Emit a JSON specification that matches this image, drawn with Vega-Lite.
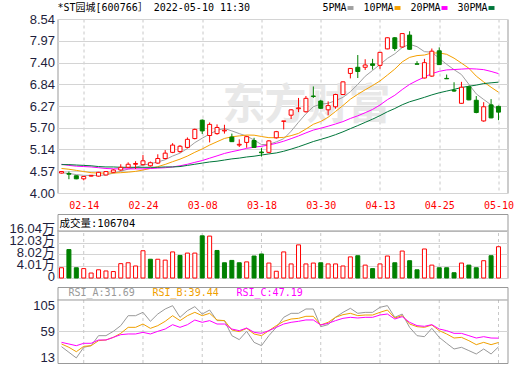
{
  "$schema": "https://vega.github.io/schema/vega-lite/v6.json",
  "background": "white",
  "padding": {"left": 7.5, "top": 2, "right": 8, "bottom": 0},
  "bounds": "flush",
  "spacing": 9,
  "data": {"values": [
    {"d":"02-09","o":4.52,"h":4.57,"l":4.51,"c":4.56,"v":3.5,"ma5":4.53,"ma10":4.64,"ma20":4.75,"ma30":4.74,"ra":32,"rb":36.8,"rc":39.7},
    {"d":"02-10","o":4.51,"h":4.56,"l":4.36,"c":4.49,"v":9.7,"ma5":4.51,"ma10":4.62,"ma20":4.72,"ma30":4.74,"ra":22,"rb":30.9,"rc":36.8},
    {"d":"02-11","o":4.45,"h":4.46,"l":4.36,"c":4.37,"v":3.5,"ma5":4.48,"ma10":4.59,"ma20":4.70,"ma30":4.73,"ra":12,"rb":23.1,"rc":33.8},
    {"d":"02-14","o":4.37,"h":4.44,"l":4.33,"c":4.43,"v":3.2,"ma5":4.46,"ma10":4.56,"ma20":4.69,"ma30":4.72,"ra":30.9,"rb":32.6,"rc":38},
    {"d":"02-15","o":4.44,"h":4.47,"l":4.43,"c":4.46,"v":1.7,"ma5":4.46,"ma10":4.53,"ma20":4.68,"ma30":4.71,"ra":33.8,"rb":33.8,"rc":38},
    {"d":"02-16","o":4.44,"h":4.55,"l":4.43,"c":4.54,"v":2.8,"ma5":4.458,"ma10":4.52,"ma20":4.66,"ma30":4.69,"ra":51.6,"rb":42.7,"rc":43.9},
    {"d":"02-17","o":4.47,"h":4.57,"l":4.46,"c":4.56,"v":2.4,"ma5":4.472,"ma10":4.52,"ma20":4.64,"ma30":4.68,"ra":51.6,"rb":43.9,"rc":43.9},
    {"d":"02-18","o":4.54,"h":4.62,"l":4.52,"c":4.60,"v":2.2,"ma5":4.518,"ma10":4.52,"ma20":4.63,"ma30":4.68,"ra":59.3,"rb":48.6,"rc":48.6},
    {"d":"02-21","o":4.60,"h":4.75,"l":4.58,"c":4.67,"v":4.9,"ma5":4.566,"ma10":4.53,"ma20":4.63,"ma30":4.67,"ra":69.4,"rb":55.7,"rc":53.4},
    {"d":"02-22","o":4.67,"h":4.80,"l":4.65,"c":4.75,"v":5.2,"ma5":4.624,"ma10":4.544,"ma20":4.63,"ma30":4.67,"ra":87.1,"rb":66.4,"rc":54.6},
    {"d":"02-23","o":4.75,"h":4.83,"l":4.63,"c":4.77,"v":4.1,"ma5":4.67,"ma10":4.564,"ma20":4.63,"ma30":4.67,"ra":87.1,"rb":66.4,"rc":54.6},
    {"d":"02-24","o":4.74,"h":4.99,"l":4.72,"c":4.84,"v":9.3,"ma5":4.726,"ma10":4.599,"ma20":4.63,"ma30":4.67,"ra":93.1,"rb":72.3,"rc":57.5},
    {"d":"02-25","o":4.71,"h":4.82,"l":4.69,"c":4.79,"v":6.4,"ma5":4.764,"ma10":4.641,"ma20":4.64,"ma30":4.67,"ra":77.1,"rb":64.6,"rc":54.6},
    {"d":"02-28","o":4.78,"h":5.01,"l":4.76,"c":4.90,"v":6.4,"ma5":4.81,"ma10":4.688,"ma20":4.65,"ma30":4.67,"ra":90.1,"rb":69.4,"rc":59.3},
    {"d":"03-01","o":4.90,"h":5.12,"l":4.88,"c":5.04,"v":6.1,"ma5":4.868,"ma10":4.746,"ma20":4.66,"ma30":4.68,"ra":99,"rb":77.1,"rc":63.4},
    {"d":"03-02","o":5.06,"h":5.30,"l":5.04,"c":5.25,"v":8.9,"ma5":4.964,"ma10":4.817,"ma20":4.68,"ma30":4.68,"ra":104.9,"rb":87.1,"rc":71.1},
    {"d":"03-03","o":5.08,"h":5.25,"l":5.05,"c":5.22,"v":7.7,"ma5":5.04,"ma10":4.883,"ma20":4.71,"ma30":4.69,"ra":84.2,"rb":78.3,"rc":66.4},
    {"d":"03-04","o":5.19,"h":5.45,"l":5.17,"c":5.40,"v":8.5,"ma5":5.162,"ma10":4.963,"ma20":4.75,"ma30":4.72,"ra":96,"rb":87.1,"rc":71.1},
    {"d":"03-07","o":5.42,"h":5.68,"l":5.40,"c":5.66,"v":8.5,"ma5":5.314,"ma10":5.062,"ma20":4.80,"ma30":4.75,"ra":103.2,"rb":93.1,"rc":79.4},
    {"d":"03-08","o":5.90,"h":5.92,"l":5.54,"c":5.62,"v":14.4,"ma5":5.43,"ma10":5.149,"ma20":4.847,"ma30":4.78,"ra":90.1,"rb":87.1,"rc":75.3},
    {"d":"03-09","o":5.50,"h":5.84,"l":5.32,"c":5.79,"v":14.3,"ma5":5.538,"ma10":5.251,"ma20":4.908,"ma30":4.81,"ra":97.2,"rb":91.3,"rc":78.3},
    {"d":"03-10","o":5.55,"h":5.79,"l":5.52,"c":5.71,"v":9.4,"ma5":5.636,"ma10":5.338,"ma20":4.969,"ma30":4.83,"ra":78.3,"rb":79.4,"rc":72.3},
    {"d":"03-11","o":5.62,"h":5.78,"l":5.55,"c":5.64,"v":5.2,"ma5":5.684,"ma10":5.423,"ma20":5.032,"ma30":4.86,"ra":78.3,"rb":78.3,"rc":72.3},
    {"d":"03-14","o":5.46,"h":5.55,"l":5.33,"c":5.34,"v":6.0,"ma5":5.62,"ma10":5.467,"ma20":5.078,"ma30":4.89,"ra":51.6,"rb":61.7,"rc":63.4},
    {"d":"03-15","o":5.25,"h":5.40,"l":5.20,"c":5.27,"v":5.2,"ma5":5.55,"ma10":5.49,"ma20":5.118,"ma30":4.91,"ra":44.5,"rb":58.7,"rc":60.5},
    {"d":"03-16","o":5.32,"h":5.49,"l":5.18,"c":5.47,"v":5.5,"ma5":5.486,"ma10":5.512,"ma20":5.165,"ma30":4.94,"ra":59.3,"rb":64.6,"rc":65.2},
    {"d":"03-17","o":5.37,"h":5.44,"l":5.18,"c":5.19,"v":7.5,"ma5":5.382,"ma10":5.509,"ma20":5.196,"ma30":4.96,"ra":39.7,"rb":54.6,"rc":57.5},
    {"d":"03-18","o":5.07,"h":5.17,"l":4.95,"c":5.05,"v":8.2,"ma5":5.264,"ma10":5.474,"ma20":5.219,"ma30":4.99,"ra":33.8,"rb":51.6,"rc":55.7},
    {"d":"03-21","o":5.06,"h":5.38,"l":5.04,"c":5.36,"v":5.1,"ma5":5.268,"ma10":5.444,"ma20":5.253,"ma30":5.02,"ra":51.6,"rb":60.5,"rc":60.5},
    {"d":"03-22","o":5.44,"h":5.62,"l":5.42,"c":5.60,"v":2.3,"ma5":5.334,"ma10":5.442,"ma20":5.296,"ma30":5.045,"ra":66.4,"rb":69.4,"rc":66.4},
    {"d":"03-23","o":5.87,"h":5.88,"l":5.66,"c":5.88,"v":8.9,"ma5":5.416,"ma10":5.451,"ma20":5.351,"ma30":5.089,"ra":84.2,"rb":77.1,"rc":72.3},
    {"d":"03-24","o":6.03,"h":6.19,"l":5.93,"c":6.17,"v":4.8,"ma5":5.612,"ma10":5.497,"ma20":5.418,"ma30":5.145,"ra":91.3,"rb":81.2,"rc":75.3},
    {"d":"03-25","o":6.20,"h":6.48,"l":6.11,"c":6.22,"v":11.3,"ma5":5.846,"ma10":5.555,"ma20":5.489,"ma30":5.206,"ra":91.3,"rb":82.4,"rc":77.1},
    {"d":"03-28","o":6.12,"h":6.53,"l":6.10,"c":6.47,"v":4.8,"ma5":6.068,"ma10":5.668,"ma20":5.568,"ma30":5.274,"ra":99,"rb":86,"rc":79.5},
    {"d":"03-29","o":6.53,"h":6.78,"l":6.48,"c":6.52,"v":5.1,"ma5":6.252,"ma10":5.793,"ma20":5.642,"ma30":5.343,"ra":99,"rb":86,"rc":79.5},
    {"d":"03-30","o":6.40,"h":6.43,"l":6.19,"c":6.21,"v":5.2,"ma5":6.318,"ma10":5.867,"ma20":5.69,"ma30":5.399,"ra":67.6,"rb":70.6,"rc":70.6},
    {"d":"03-31","o":6.17,"h":6.39,"l":6.03,"c":6.28,"v":4.8,"ma5":6.34,"ma10":5.976,"ma20":5.743,"ma30":5.456,"ra":71.2,"rb":75.3,"rc":73.5},
    {"d":"04-01","o":6.25,"h":6.59,"l":6.20,"c":6.57,"v":4.8,"ma5":6.41,"ma10":6.128,"ma20":5.801,"ma30":5.522,"ra":84.2,"rb":84.2,"rc":78.3},
    {"d":"04-06","o":6.57,"h":6.91,"l":6.56,"c":6.90,"v":4.1,"ma5":6.496,"ma10":6.282,"ma20":5.863,"ma30":5.596,"ra":93,"rb":88.9,"rc":82.4},
    {"d":"04-07","o":7.12,"h":7.26,"l":6.99,"c":7.25,"v":7.2,"ma5":6.642,"ma10":6.447,"ma20":5.945,"ma30":5.679,"ra":100.2,"rb":91.3,"rc":84.2},
    {"d":"04-08","o":7.28,"h":7.60,"l":7.00,"c":7.17,"v":7.6,"ma5":6.834,"ma10":6.576,"ma20":6.014,"ma30":5.759,"ra":91.3,"rb":87.2,"rc":83},
    {"d":"04-11","o":7.28,"h":7.49,"l":7.21,"c":7.34,"v":4.4,"ma5":7.046,"ma10":6.693,"ma20":6.095,"ma30":5.843,"ra":93,"rb":88.3,"rc":84.2},
    {"d":"04-12","o":7.37,"h":7.50,"l":7.22,"c":7.33,"v":3.2,"ma5":7.198,"ma10":6.804,"ma20":6.18,"ma30":5.927,"ra":93,"rb":88.3,"rc":84.2},
    {"d":"04-13","o":7.33,"h":7.68,"l":7.24,"c":7.67,"v":4.8,"ma5":7.352,"ma10":6.924,"ma20":6.296,"ma30":6.019,"ra":102,"rb":93.1,"rc":88.3},
    {"d":"04-14","o":7.76,"h":8.06,"l":7.75,"c":8.05,"v":7.5,"ma5":7.512,"ma10":7.077,"ma20":6.435,"ma30":6.12,"ra":105,"rb":97.2,"rc":90.1},
    {"d":"04-15","o":8.05,"h":8.07,"l":7.71,"c":7.77,"v":5.2,"ma5":7.632,"ma10":7.233,"ma20":6.55,"ma30":6.204,"ra":84.2,"rb":83,"rc":81.2},
    {"d":"04-18","o":7.81,"h":8.16,"l":7.79,"c":8.16,"v":9.2,"ma5":7.796,"ma10":7.421,"ma20":6.699,"ma30":6.302,"ra":90,"rb":87.2,"rc":85.4},
    {"d":"04-19","o":8.12,"h":8.22,"l":7.74,"c":7.75,"v":5.9,"ma5":7.88,"ma10":7.539,"ma20":6.834,"ma30":6.38,"ra":66.4,"rb":72.3,"rc":75.3},
    {"d":"04-20","o":7.37,"h":7.44,"l":7.36,"c":7.36,"v":2.8,"ma5":7.818,"ma10":7.585,"ma20":6.934,"ma30":6.437,"ra":51.6,"rb":67.6,"rc":69.4},
    {"d":"04-21","o":7.00,"h":7.50,"l":6.99,"c":7.40,"v":9.9,"ma5":7.688,"ma10":7.6,"ma20":7.024,"ma30":6.496,"ra":49.8,"rb":66.4,"rc":68.2},
    {"d":"04-22","o":7.05,"h":7.77,"l":7.03,"c":7.70,"v":4.4,"ma5":7.674,"ma10":7.653,"ma20":7.115,"ma30":6.56,"ra":64.6,"rb":70.6,"rc":71.2},
    {"d":"04-25","o":7.71,"h":7.80,"l":7.34,"c":7.35,"v":3.5,"ma5":7.512,"ma10":7.654,"ma20":7.174,"ma30":6.615,"ra":48.6,"rb":60.5,"rc":63.4},
    {"d":"04-26","o":6.99,"h":7.09,"l":6.98,"c":6.98,"v":3.5,"ma5":7.358,"ma10":7.619,"ma20":7.212,"ma30":6.659,"ra":38,"rb":54.6,"rc":60.5},
    {"d":"04-27","o":6.68,"h":6.89,"l":6.64,"c":6.66,"v":1.8,"ma5":7.218,"ma10":7.518,"ma20":7.221,"ma30":6.703,"ra":27.9,"rb":47.4,"rc":55.7},
    {"d":"04-28","o":6.34,"h":6.90,"l":6.33,"c":6.76,"v":5.1,"ma5":7.09,"ma10":7.389,"ma20":7.233,"ma30":6.753,"ra":30.9,"rb":48.6,"rc":55.7},
    {"d":"04-29","o":6.77,"h":6.80,"l":6.42,"c":6.43,"v":4.4,"ma5":6.836,"ma10":7.255,"ma20":7.244,"ma30":6.785,"ra":25,"rb":42.7,"rc":51.6},
    {"d":"05-05","o":6.42,"h":6.53,"l":6.08,"c":6.10,"v":3.5,"ma5":6.586,"ma10":7.049,"ma20":7.235,"ma30":6.815,"ra":19,"rb":35.6,"rc":47.4},
    {"d":"05-06","o":5.88,"h":6.37,"l":5.86,"c":6.25,"v":5.9,"ma5":6.44,"ma10":6.899,"ma20":7.219,"ma30":6.855,"ra":27.9,"rb":39.7,"rc":49.8},
    {"d":"05-09","o":6.30,"h":6.45,"l":5.95,"c":5.96,"v":7.6,"ma5":6.30,"ma10":6.759,"ma20":7.172,"ma30":6.875,"ra":19,"rb":35.6,"rc":47.4},
    {"d":"05-10","o":6.26,"h":6.28,"l":5.90,"c":6.11,"v":10.67,"ma5":6.17,"ma10":6.63,"ma20":7.115,"ma30":6.892,"ra":31.69,"rb":39.44,"rc":47.19}
  ]},
  "config": {
    "view": {"stroke": "#999999"},
    "axis": {"domain": false, "ticks": false, "labelOverlap": false, "labelFont": "Liberation Sans", "labelFontSize": 13, "labelColor": "#1e1e3c", "gridColor": "#d4d4d4"}
  },
  "resolve": {"scale": {"x": "independent", "y": "independent", "color": "independent"}, "legend": {"color": "independent"}},
  "vconcat": [
    {
      "width": 450,
      "height": 174,
      "title": {"text": "*ST园城[600766］ 2022-05-10 11:30", "anchor": "start", "frame": "group", "offset": -10, "font": "DejaVu Sans Mono, Noto Sans CJK SC", "fontSize": 10, "fontWeight": "normal", "color": "#000000"},
      "encoding": {
        "x": {"field": "d", "type": "ordinal", "scale": {"type": "point", "padding": 0.8777, "align": 0.3077},
          "axis": {"values": ["02-14","02-24","03-08","03-18","03-30","04-13","04-25","05-10"], "labelAngle": 0, "labelOverlap": false, "labelColor": "#ff0000", "labelFont": "DejaVu Sans Mono", "labelFontSize": 10, "labelPadding": 7, "grid": true, "gridDash": [3,3], "gridColor": "#c8c8c8", "title": null}}
      },
      "layer": [
        {
          "data": {"values": [{"w": "东方财富"}]},
          "mark": {"type": "text", "font": "Noto Sans CJK SC", "fontSize": 42, "fontWeight": "bold", "color": "#e8e8e8", "dx": 8},
          "encoding": {"x": {"datum": "03-25"}, "y": {"datum": 6.28, "type": "quantitative", "scale": {"domain": [4, 8.54], "nice": false, "zero": false}}, "text": {"field": "w"}}
        },
        {
          "transform": [{"fold": ["ma5","ma10","ma20","ma30"], "as": ["k","val"]}],
          "mark": {"type": "line", "strokeWidth": 1},
          "encoding": {
            "y": {"field": "val", "type": "quantitative", "scale": {"domain": [4, 8.54], "nice": false, "zero": false},
              "axis": {"values": [4.00,4.57,5.14,5.70,6.27,6.84,7.40,7.97,8.54], "tickCount": 50, "format": ".2f", "labelOverlap": false, "labelPadding": 3, "grid": true, "title": null}},
            "color": {"field": "k", "type": "nominal", "scale": {"domain": ["ma5","ma10","ma20","ma30"], "range": ["#a0a0a0","#f5a000","#ff00ff","#00763a"]},
              "legend": {"orient": "none", "legendX": 288, "legendY": -16, "direction": "horizontal", "title": null,
                "labelExpr": "datum.value=='ma5'?'5PMA':datum.value=='ma10'?'10PMA':datum.value=='ma20'?'20PMA':'30PMA'",
                "labelFont": "DejaVu Sans Mono", "labelFontSize": 10, "labelColor": "#000000",
                "symbolType": "M-1,-0.65H1V0.65H-1Z", "symbolSize": 36, "symbolStrokeWidth": 0,
                "labelAlign": "right", "labelOffset": -9, "columnPadding": 9,
                "encode": {"symbols": {"update": {"fill": {"signal": "datum.value=='ma5'?'#a0a0a0':datum.value=='ma10'?'#f5a000':datum.value=='ma20'?'#ff00ff':'#00763a'"}, "strokeWidth": {"value": 0}, "opacity": {"value": 1}}}}}}
          }
        },
        {
          "mark": {"type": "rule", "strokeWidth": 1},
          "encoding": {
            "y": {"field": "l", "type": "quantitative", "scale": {"domain": [4, 8.54], "nice": false, "zero": false}},
            "y2": {"field": "h"},
            "color": {"condition": {"test": "datum.c >= datum.o", "value": "#ff0000"}, "value": "#008000"}
          }
        },
        {
          "mark": {"type": "bar", "width": 4, "strokeWidth": 1},
          "encoding": {
            "y": {"field": "o", "type": "quantitative", "scale": {"domain": [4, 8.54], "nice": false, "zero": false}},
            "y2": {"field": "c"},
            "fill": {"condition": {"test": "datum.c >= datum.o", "value": "#ffffff"}, "value": "#008000"},
            "stroke": {"condition": {"test": "datum.c >= datum.o", "value": "#ff0000"}, "value": "#008000"}
          }
        }
      ]
    },
    {
      "width": 450,
      "height": 3,
      "view": {"stroke": null},
      "data": {"values": [{"z": 0}]},
      "mark": {"type": "point", "opacity": 0},
      "encoding": {}
    },
    {
      "width": 450,
      "height": 64,
      "title": {"text": "成交量:106704", "anchor": "start", "frame": "group", "offset": -15, "dx": 2, "font": "DejaVu Sans Mono, Noto Sans CJK SC", "fontSize": 10.5, "fontWeight": "normal", "color": "#000000"},
      "layer": [
        {
          "transform": [{"filter": {"field": "d", "oneOf": ["02-14","02-24","03-08","03-18","03-30","04-13","04-25","05-10"]}}],
          "mark": {"type": "rule", "strokeDash": [3,3], "color": "#c8c8c8", "strokeWidth": 1},
          "encoding": {
            "x": {"field": "d", "type": "ordinal", "scale": {"type": "point", "padding": 0.8777, "align": 0.3077}, "axis": null},
            "y": {"datum": 0, "type": "quantitative", "scale": {"domain": [0, 21.84], "nice": false, "zero": false}},
            "y2": {"datum": 16.04}
          }
        },
        {
          "data": {"values": [{"z": 0}]},
          "mark": {"type": "rule", "color": "#999999", "strokeWidth": 1},
          "encoding": {"y": {"datum": 16.04, "type": "quantitative", "scale": {"domain": [0, 21.84], "nice": false, "zero": false}}}
        },
        {
          "transform": [{"window": [{"op": "lag", "field": "c", "as": "pc"}], "sort": [{"field": "d"}]}],
          "mark": {"type": "bar", "width": 4, "strokeWidth": 1},
          "encoding": {
            "x": {"field": "d", "type": "ordinal", "scale": {"type": "point", "padding": 0.8777, "align": 0.3077}, "axis": null},
            "y": {"field": "v", "type": "quantitative", "scale": {"domain": [0, 21.84], "nice": false, "zero": false},
              "axis": {"values": [0, 4.01, 8.02, 12.03, 16.04], "tickCount": 50, "labelOverlap": false, "labelExpr": "datum.value == 0 ? '0' : format(datum.value, '.2f') + '万'", "labelFont": "Liberation Sans, Noto Sans CJK SC", "labelFontSize": 13, "labelPadding": 3, "labelOffset": -2, "grid": true, "title": null}},
            "fill": {"condition": {"test": "datum.pc == null || datum.c >= datum.pc", "value": "#ffffff"}, "value": "#008000"},
            "stroke": {"condition": {"test": "datum.pc == null || datum.c >= datum.pc", "value": "#ff0000"}, "value": "#008000"}
          }
        }
      ]
    },
    {
      "width": 450,
      "height": 76,
      "layer": [
        {
          "transform": [{"filter": {"field": "d", "oneOf": ["02-14","02-24","03-08","03-18","03-30","04-13","04-25","05-10"]}}],
          "mark": {"type": "rule", "strokeDash": [3,3], "color": "#c8c8c8", "strokeWidth": 1},
          "encoding": {
            "x": {"field": "d", "type": "ordinal", "scale": {"type": "point", "padding": 0.8777, "align": 0.3077}, "axis": null},
            "y": {"datum": 3, "type": "quantitative", "scale": {"domain": [3, 138.1], "nice": false, "zero": false}},
            "y2": {"datum": 115}
          }
        },
        {
          "data": {"values": [{"z": 0}]},
          "mark": {"type": "rule", "color": "#999999", "strokeWidth": 1},
          "encoding": {"y": {"datum": 115, "type": "quantitative", "scale": {"domain": [3, 138.1], "nice": false, "zero": false}}}
        },
        {
          "transform": [{"fold": ["ra","rb","rc"], "as": ["k","val"]}],
          "mark": {"type": "line", "strokeWidth": 1},
          "encoding": {
            "x": {"field": "d", "type": "ordinal", "scale": {"type": "point", "padding": 0.8777, "align": 0.3077}, "axis": null},
            "y": {"field": "val", "type": "quantitative", "scale": {"domain": [3, 138.1], "nice": false, "zero": false},
              "axis": {"values": [13, 59, 105], "tickCount": 50, "labelOverlap": false, "labelPadding": 3, "grid": true, "gridOpacity": {"condition": {"test": "datum.value === 59", "value": 1}, "value": 0}, "title": null}},
            "color": {"field": "k", "type": "nominal", "scale": {"domain": ["ra","rb","rc"], "range": ["#999999","#f0a000","#ff00ff"]},
              "legend": {"orient": "none", "legendX": 1, "legendY": 1, "direction": "horizontal", "title": null,
                "labelExpr": "datum.value=='ra'?'RSI_A:31.69':datum.value=='rb'?'RSI_B:39.44':'RSI_C:47.19'",
                "labelFont": "DejaVu Sans Mono", "labelFontSize": 10, "symbolSize": 0, "symbolStrokeWidth": 0, "labelOffset": 0, "columnPadding": 7,
                "encode": {"labels": {"update": {"fill": {"signal": "datum.value=='ra'?'#999999':datum.value=='rb'?'#f0a000':'#ff00ff'"}}}}}}
          }
        }
      ]
    }
  ]
}
